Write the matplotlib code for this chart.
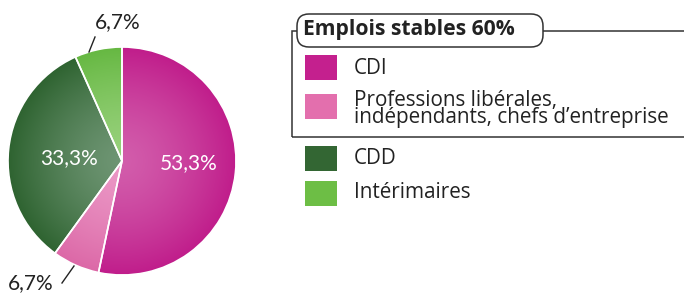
import numpy as np
import matplotlib
matplotlib.use("Agg")
import matplotlib.pyplot as plt
from matplotlib.patches import Rectangle, FancyBboxPatch
from matplotlib.colors import to_rgb

plt.rcParams["font.family"] = ["Lato", "DejaVu Sans"]

categories = ["CDI", "Professions libérales,\nindépendants, chefs d’entreprise", "CDD", "Intérimaires"]
values = [53.3, 6.7, 33.3, 6.7]
legend_colors = ["#C4208E", "#E36FAD", "#336633", "#6DBE45"]
dark_colors = ["#C01D8B", "#DC68A7", "#2E6330", "#66B842"]
light_colors = ["#D25CAB", "#EB98C6", "#6E9573", "#98D17C"]
legend_title = "Emplois stables 60%"

W, H = 684, 293
fig = plt.figure(figsize=(W / 100, H / 100), dpi=100)
ax = fig.add_axes([0, 0, 1, 1])

# pie in pixel coordinates (y up)
cx, cy, R = 122, 293 - 161, 114
wedges, _ = ax.pie(values, colors=legend_colors, startangle=90, counterclock=False,
                   center=(cx, cy), radius=R,
                   wedgeprops=dict(edgecolor="white", linewidth=1.2))

# radial shading: lighter in the middle, darker at the rim
n = 400
xs = np.linspace(-1, 1, n)
gx, gy = np.meshgrid(xs, xs)
t = np.clip(np.hypot(gx, gy), 0, 1) ** 1.4
for w, dk, lt in zip(wedges, dark_colors, light_colors):
    dk, lt = np.array(to_rgb(dk)), np.array(to_rgb(lt))
    img = lt + (dk - lt) * t[..., None]
    im = ax.imshow(img, extent=[cx - R, cx + R, cy - R, cy + R], origin="lower",
                   zorder=w.get_zorder() + 0.1, interpolation="bilinear")
    im.set_clip_path(w)
    # redraw the white separators above the shading
    w.set_facecolor("none")
    w.set_zorder(w.get_zorder() + 0.2)


def pct(v):
    return f"{v:.1f}".replace(".", ",") + "%"


ax.text(189, 293 - 163, pct(values[0]), color="white", fontsize=15, ha="center", va="center", zorder=5)
ax.text(69, 293 - 158, pct(values[2]), color="white", fontsize=15, ha="center", va="center", zorder=5)
ax.text(118, 293 - 22, pct(values[3]), color="#222222", fontsize=15, ha="center", va="center", zorder=5)
ax.text(31, 293 - 283, pct(values[1]), color="#222222", fontsize=15, ha="center", va="center", zorder=5)
ax.plot([89, 95], [293 - 52, 293 - 37], color="#222222", lw=1)
ax.plot([62, 74], [293 - 283, 293 - 266], color="#222222", lw=1)

# legend frame + rounded title box
ax.add_patch(Rectangle((292, 293 - 137), 420, 106, fill=False, edgecolor="#333333", lw=1.1, zorder=3))
ax.add_patch(FancyBboxPatch((297, 293 - 47), 246, 33, boxstyle="round,pad=0,rounding_size=12",
                            facecolor="white", edgecolor="#333333", lw=1.1, zorder=4))
ax.text(303, 293 - 30, legend_title, fontsize=15.2, fontweight="bold", color="#222222",
        family=["Open Sans", "DejaVu Sans"], ha="left", va="center", zorder=5)

sq_y = [55, 94, 146, 181]
txt_y = [69, 109, 159, 193]
for c, col, sy, ty in zip(categories, legend_colors, sq_y, txt_y):
    ax.add_patch(Rectangle((305, 293 - sy - 25), 32, 25, facecolor=col, edgecolor="none", zorder=5))
    ax.text(354, 293 - ty, c, fontsize=14.9, color="#222222", ha="left", va="center",
            family=["Open Sans", "DejaVu Sans"], linespacing=0.78, zorder=5)

ax.set_xlim(0, W)
ax.set_ylim(0, H)
ax.set_aspect("equal")
ax.axis("off")

fig.savefig("out.png", dpi=100)
